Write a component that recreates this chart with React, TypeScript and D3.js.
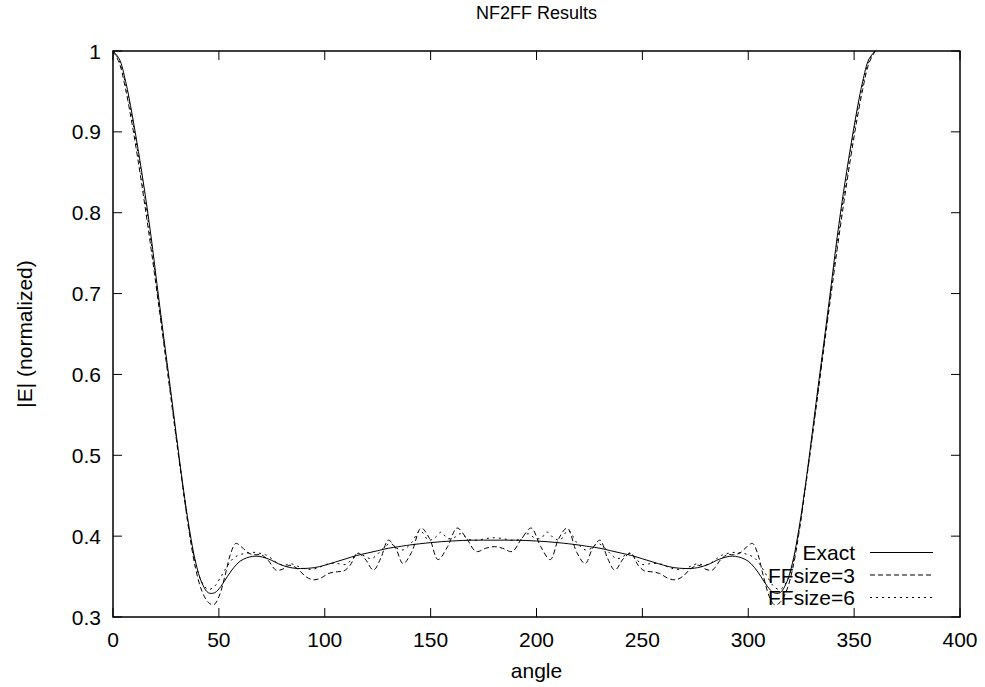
import React from "react";
import * as d3 from "d3";

const title = "NF2FF Results";
const xLabel = "angle";
const yLabel = "|E| (normalized)";
const xTicks = [0, 50, 100, 150, 200, 250, 300, 350, 400];
const yTicks = [0.3, 0.4, 0.5, 0.6, 0.7, 0.8, 0.9, 1];
const seriesNames = ["Exact", "FFsize=3", "FFsize=6"];

const exactAngles = [0,3,6,9,12,15,18,21,24,27,30,33,36,39,42,45,48,51,54,57,60,63,66,69,72,75,78,81,84,87,90,95,100,105,110,115,120,125,130,135,140,150,160,170,180,190,200,210,220,225,230,235,240,245,250,255,260,265,270,273,276,279,282,285,288,291,294,297,300,303,306,309,312,315,318,321,324,327,330,333,336,339,342,345,348,351,354,357,360];
const exactValues = [1.0,0.99,0.962,0.922,0.876,0.826,0.77,0.707,0.645,0.585,0.523,0.463,0.41,0.368,0.342,0.33,0.33,0.338,0.35,0.361,0.369,0.373,0.375,0.375,0.373,0.37,0.366,0.363,0.361,0.36,0.36,0.361,0.364,0.368,0.372,0.376,0.379,0.382,0.385,0.387,0.389,0.392,0.394,0.395,0.395,0.395,0.394,0.392,0.389,0.387,0.385,0.382,0.379,0.376,0.372,0.368,0.364,0.361,0.36,0.36,0.361,0.363,0.366,0.37,0.373,0.375,0.375,0.373,0.369,0.361,0.35,0.338,0.33,0.33,0.342,0.368,0.41,0.463,0.523,0.585,0.645,0.707,0.77,0.826,0.876,0.922,0.962,0.99,1.0];

const ff3Angles = [0,3,6,9,12,15,18,21,24,27,30,33,36,39,42,45,47.5,50,53,55.5,58,61,64,67,70,73,77,80,83.5,87,91,94.5,98,102,106,109,112,115.5,119,123,126.5,130,133.5,137,141,145.5,149.5,153.5,158,162.5,167,171.5,176,180,184,188.5,193,197.5,202,206.5,210.5,214.5,219,223,226.5,230,233.5,237,241,244.5,248,251,254,258,262,265.5,269,273,276.5,280,283,287,290,293,296,299,302,304.5,307,310,312.5,315,318,321,324,327,330,333,336,339,342,345,348,351,354,357,360];
const ff3Values = [1.0,0.985,0.952,0.91,0.862,0.81,0.755,0.697,0.638,0.578,0.518,0.46,0.405,0.36,0.332,0.318,0.315,0.325,0.352,0.378,0.391,0.386,0.379,0.377,0.377,0.371,0.358,0.359,0.364,0.36,0.35,0.346,0.348,0.354,0.356,0.357,0.364,0.379,0.372,0.358,0.373,0.395,0.385,0.366,0.38,0.41,0.397,0.371,0.387,0.41,0.397,0.381,0.385,0.387,0.385,0.381,0.397,0.41,0.387,0.371,0.397,0.41,0.38,0.366,0.385,0.395,0.373,0.358,0.372,0.379,0.364,0.357,0.356,0.354,0.348,0.346,0.35,0.36,0.364,0.359,0.358,0.371,0.377,0.377,0.379,0.386,0.391,0.378,0.352,0.325,0.315,0.318,0.332,0.36,0.405,0.46,0.518,0.578,0.638,0.697,0.755,0.81,0.862,0.91,0.952,0.985,1.0];

const ff6Angles = [0,3,6,9,12,15,18,21,24,27,30,33,36,39,42,45,48,51,54,57,60,63,66,69,72,75,78,81,84,87,90,94,98,102,106,110,113,116,119,122,125,128,131,134,137,141,145,149,152,155,158,161,164,168,172,176,180,184,188,192,196,199,202,205,208,211,215,219,223,226,229,232,235,238,241,244,247,250,254,258,262,266,270,273,276,279,282,285,288,291,294,297,300,303,306,309,312,315,318,321,324,327,330,333,336,339,342,345,348,351,354,357,360];
const ff6Values = [1.0,0.988,0.958,0.917,0.87,0.819,0.763,0.702,0.641,0.581,0.52,0.461,0.407,0.366,0.343,0.334,0.338,0.35,0.363,0.373,0.377,0.379,0.38,0.379,0.377,0.372,0.366,0.364,0.366,0.363,0.36,0.359,0.362,0.366,0.366,0.365,0.372,0.379,0.375,0.372,0.378,0.386,0.391,0.385,0.383,0.392,0.407,0.395,0.398,0.405,0.397,0.398,0.403,0.396,0.395,0.397,0.398,0.397,0.395,0.396,0.403,0.398,0.397,0.405,0.398,0.395,0.407,0.392,0.383,0.385,0.391,0.386,0.378,0.372,0.375,0.379,0.372,0.365,0.366,0.366,0.362,0.359,0.36,0.363,0.366,0.364,0.366,0.372,0.377,0.379,0.38,0.379,0.377,0.373,0.363,0.35,0.338,0.334,0.343,0.366,0.407,0.461,0.52,0.581,0.641,0.702,0.763,0.819,0.87,0.917,0.958,0.988,1.0];

const W = 985;
const H = 687;
const left = 113;
const right = 960;
const top = 51;
const bottom = 617;
const FONT = "'Liberation Sans', Arial, Helvetica, sans-serif";

export default function App() {
  const x = d3.scaleLinear().domain([0, 400]).range([left, right]);
  const y = d3.scaleLinear().domain([0.3, 1]).range([bottom, top]);
  const line = d3
    .line<[number, number]>()
    .x((d) => x(d[0]))
    .y((d) => y(d[1]))
    .curve(d3.curveCatmullRom.alpha(0.5));

  const series = [
    { name: seriesNames[0], a: exactAngles, v: exactValues, dash: undefined as string | undefined },
    { name: seriesNames[1], a: ff3Angles, v: ff3Values, dash: "5,3" },
    { name: seriesNames[2], a: ff6Angles, v: ff6Values, dash: "2,4" },
  ];
  const tickLen = 9;
  const legendTextX = 855;
  const legendBase = [560, 582.5, 605];

  return (
    <svg
      width={W}
      height={H}
      style={{ position: "absolute", left: 0, top: 0, background: "#fff" }}
      fontFamily={FONT}
    >
      <rect x={0} y={0} width={W} height={H} fill="#fff" />
      <defs>
        <clipPath id="plotclip">
          <rect x={left} y={top - 1} width={right - left} height={bottom - top + 2} />
        </clipPath>
      </defs>
      {series.map((s) => (
        <path
          key={s.name}
          d={line(s.a.map((a, i) => [a, s.v[i]] as [number, number])) || ""}
          fill="none"
          stroke="#000"
          strokeWidth={1}
          strokeDasharray={s.dash}
          clipPath="url(#plotclip)"
        />
      ))}
      {xTicks.map((t) => (
        <g key={"x" + t}>
          <line x1={x(t)} x2={x(t)} y1={bottom} y2={bottom - tickLen} stroke="#000" />
          <line x1={x(t)} x2={x(t)} y1={top} y2={top + tickLen} stroke="#000" />
          <text x={x(t)} y={647} textAnchor="middle" fontSize={21}>
            {t}
          </text>
        </g>
      ))}
      {yTicks.map((t) => (
        <g key={"y" + t}>
          <line x1={left} x2={left + tickLen} y1={y(t)} y2={y(t)} stroke="#000" />
          <line x1={right} x2={right - tickLen} y1={y(t)} y2={y(t)} stroke="#000" />
          <text x={101} y={y(t) + 7.5} textAnchor="end" fontSize={21}>
            {t}
          </text>
        </g>
      ))}
      <rect x={left} y={top} width={right - left} height={bottom - top} fill="none" stroke="#000" strokeWidth={1.5} />
      <text x={(left + right) / 2} y={19} textAnchor="middle" fontSize={18}>
        {title}
      </text>
      <text x={(left + right) / 2} y={678} textAnchor="middle" fontSize={21}>
        {xLabel}
      </text>
      <text
        transform={`translate(32, ${(top + bottom) / 2}) rotate(-90)`}
        textAnchor="middle"
        fontSize={21}
      >
        {yLabel}
      </text>
      {series.map((s, i) => (
        <g key={"leg" + s.name}>
          <text x={legendTextX} y={legendBase[i]} textAnchor="end" fontSize={21}>
            {s.name}
          </text>
          <line
            x1={870}
            x2={933}
            y1={legendBase[i] - 7.5}
            y2={legendBase[i] - 7.5}
            stroke="#000"
            strokeDasharray={s.dash}
          />
        </g>
      ))}
    </svg>
  );
}
